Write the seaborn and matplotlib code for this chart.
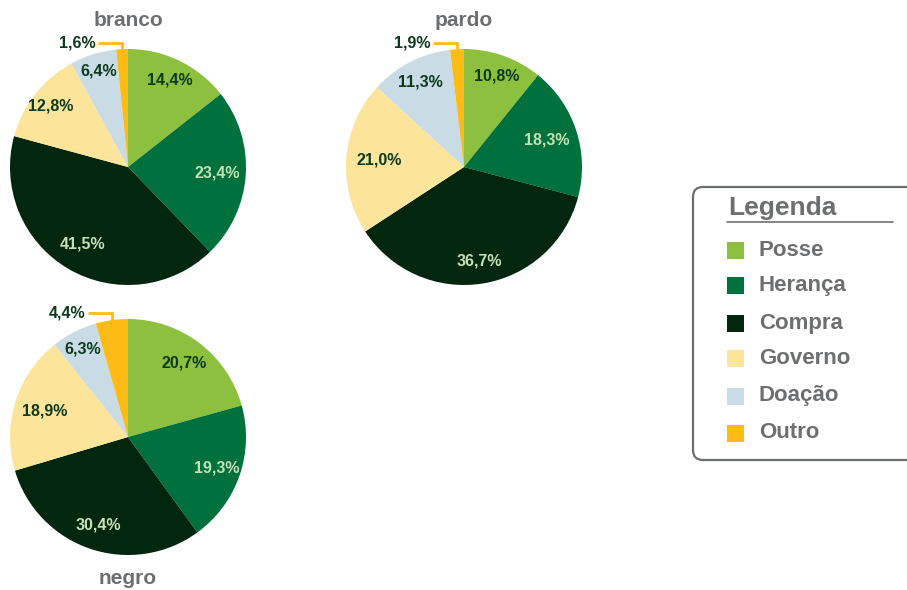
import numpy as np
import matplotlib
matplotlib.use("Agg")
import matplotlib.pyplot as plt
from matplotlib.patches import FancyBboxPatch, Rectangle
import seaborn as sns

# Forma de obtenção da terra, por cor/raça
categories = ["Posse", "Herança", "Compra", "Governo", "Doação", "Outro"]
branco = [14.4, 23.4, 41.5, 12.8, 6.4, 1.6]
pardo = [10.8, 18.3, 36.7, 21.0, 11.3, 1.9]
negro = [20.7, 19.3, 30.4, 18.9, 6.3, 4.4]
group_names = ["branco", "pardo", "negro"]

colors = ["#8dc03f", "#00703c", "#03260f", "#fde49b", "#c9dce6", "#fdbb13"]
label_colors = ["#0c3a1d", "#c6e0b4", "#c6e0b4", "#0c3a1d", "#0c3a1d", "#0c3a1d"]
GREY = "#6d6e70"

sns.set_theme(style="white")
plt.rcParams["font.family"] = ["Liberation Sans", "DejaVu Sans"]

W, H = 907, 590
fig = plt.figure(figsize=(W / 100, H / 100), dpi=100)
ax = fig.add_axes([0, 0, 1, 1])

R = 118
# pie centre (pixels from top-left), title position, per-slice label radius
layout = {
    "branco": dict(c=(128, 167), title=(128, 20), lr=[0.82, 0.76, 0.76, 0.83, 0.85]),
    "pardo": dict(c=(464, 167), title=(464, 20), lr=[0.82, 0.74, 0.81, 0.72, 0.81]),
    "negro": dict(c=(128, 437), title=(128, 578), lr=[0.79, 0.80, 0.79, 0.74, 0.84]),
}

for name, vals in zip(group_names, [branco, pardo, negro]):
    lay = layout[name]
    cx, cy = lay["c"][0], H - lay["c"][1]
    wedges, _ = ax.pie(vals, colors=colors, startangle=90, counterclock=False,
                       center=(cx, cy), radius=R, normalize=True,
                       wedgeprops=dict(linewidth=0))
    for i, (w, v) in enumerate(zip(wedges, vals)):
        mid = np.deg2rad((w.theta1 + w.theta2) / 2)
        txt = f"{v:.1f}".replace(".", ",") + "%"
        if i < len(vals) - 1:
            rr = lay["lr"][i] * R
            ax.text(cx + rr * np.cos(mid), cy + rr * np.sin(mid), txt,
                    ha="center", va="center", fontsize=11.5, fontweight="bold",
                    color=label_colors[i])
        else:
            # small slice: label outside with a bent leader line
            ex, ey = cx + R * np.cos(mid), cy + R * np.sin(mid)
            ly = cy + R + 6
            tx = ex - 26
            ax.plot([tx + 2, ex, ex], [ly, ly, ey], color=colors[i], lw=2,
                    solid_joinstyle="miter", solid_capstyle="butt")
            ax.text(tx, ly, txt, ha="right", va="center", fontsize=11.5,
                    fontweight="bold", color=label_colors[i])
    tx_, ty_ = lay["title"]
    ax.text(tx_, H - ty_, name, ha="center", va="center", fontsize=15,
            fontweight="bold", color=GREY)

# Legend box
box = FancyBboxPatch((693, H - 460), 240, 273,
                     boxstyle="round,pad=0,rounding_size=10",
                     facecolor="white", edgecolor=GREY, linewidth=1.6,
                     clip_on=False)
ax.add_patch(box)
ax.text(728, H - 208, "Legenda", ha="left", va="center", fontsize=19,
        fontweight="bold", color=GREY)
ax.plot([727, 893], [H - 222, H - 222], color=GREY, lw=1.2)
item_y = [250, 285, 323, 358, 396, 433]
for cat, col, y in zip(categories, colors, item_y):
    ax.add_patch(Rectangle((727, H - y - 8.5), 17, 17, facecolor=col,
                           edgecolor="none"))
    ax.text(759, H - y, cat, ha="left", va="center", fontsize=16,
            fontweight="bold", color=GREY)

# pixel coordinate frame, set after the pies (pie rescales the axes)
ax.set_xlim(0, W)
ax.set_ylim(0, H)
ax.set_aspect("equal")
ax.set_position([0, 0, 1, 1])
ax.axis("off")

fig.savefig("out.png", dpi=100)
